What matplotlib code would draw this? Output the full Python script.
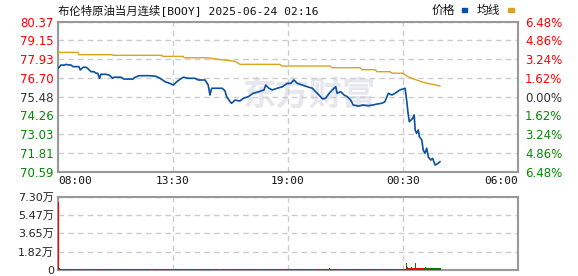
import matplotlib
matplotlib.use("Agg")
import matplotlib.pyplot as plt

# ---------------- data ----------------
title = "布伦特原油当月连续[BOOY] 2025-06-24 02:16"
prev_close = 75.48

# minutes since 08:00
price_t = [0, 9, 17, 23, 29, 37, 43, 60, 64, 72, 80, 85, 90, 95, 103, 109, 114, 119, 123, 138,
           147, 157, 161, 181, 189, 215, 219, 232, 261, 272, 281, 293, 307, 321, 331, 341, 350, 360, 373, 393,
           402, 422, 431, 436, 441, 456, 471, 479, 484, 494, 498, 508, 522, 532, 546, 560, 577, 591, 596, 605,
           615, 629, 644, 658, 668, 677, 687, 701, 715, 730, 739, 749, 759, 768, 778, 787, 797, 801, 811, 821,
           830, 840, 847, 862, 875, 890, 904, 915, 929, 938, 948, 958, 967, 981, 996, 1001, 1004, 1008, 1013, 1018,
           1022, 1025, 1029, 1034, 1037, 1044, 1048, 1053, 1058, 1063, 1070, 1075, 1082, 1088, 1096]
price_v = [77.33, 77.55, 77.53, 77.59, 77.55, 77.55, 77.44, 77.44, 77.22, 77.40, 77.40, 77.33, 77.22, 77.11, 77.11, 77.01, 77.01, 76.68, 76.94, 76.94,
           76.89, 76.68, 76.75, 76.75, 76.63, 76.63, 76.72, 76.85, 76.85, 76.83, 76.81, 76.68, 76.46, 76.35, 76.24, 76.46, 76.61, 76.75, 76.68, 76.68,
           76.57, 76.57, 76.24, 75.59, 76.03, 76.03, 76.03, 75.87, 75.48, 75.15, 75.05, 75.26, 75.20, 75.38, 75.48, 75.70, 75.81, 75.92, 76.24, 76.03,
           75.92, 76.03, 76.13, 76.35, 76.35, 76.57, 76.35, 76.24, 76.13, 76.03, 75.81, 75.59, 75.33, 75.38, 75.70, 75.92, 76.13, 75.70, 75.81, 75.59,
           75.48, 75.26, 74.94, 74.87, 74.94, 74.89, 74.94, 75.00, 75.05, 75.15, 75.70, 75.59, 75.70, 75.92, 76.03, 75.15, 74.50, 73.85, 73.96, 74.07,
           74.29, 73.31, 73.09, 73.31, 72.87, 72.66, 72.00, 71.79, 72.12, 71.53, 71.35, 71.46, 71.03, 71.09, 71.24]

avg_t = [0, 57, 60, 155, 158, 298, 301, 359, 362, 428, 465, 508, 522, 637, 643, 781, 786, 867, 872, 910,
         915, 953, 958, 990, 1004, 1047, 1096]
avg_v = [78.37, 78.37, 78.22, 78.22, 78.18, 78.18, 78.11, 78.11, 78.02, 78.02, 77.90, 77.79, 77.59, 77.59, 77.48, 77.48, 77.37, 77.37, 77.24, 77.24,
         77.11, 77.11, 77.01, 77.01, 76.78, 76.42, 76.18]

# low background volume (per 50-minute block)
base_t = [25, 75, 125, 175, 225, 275, 325, 375, 425, 475, 525, 575, 625, 675, 725, 775, 825, 875, 925, 975, 1025, 1075]
base_v = [1200, 1100, 1200, 1100, 1200, 1100, 1200, 1100, 1200, 1100, 1200, 1100, 1200, 1100, 1200, 1100, 1200, 1100, 1200, 1100, 1500, 1500]
base_up = [1, 0, 1, 0, 1, 0, 1, 0, 1, 0, 1, 0, 1, 0, 1, 0, 1, 0, 1, 0, 1, 0]

# spikes
spike_t = [1, 4, 780, 1001, 1003, 1015, 1025, 1027, 1055, 1062, 1080]
spike_v = [68000, 2000, 1800, 7000, 3000, 2500, 7000, 3000, 2500, 1500, 2000]
spike_up = [1, 0, 1, 0, 1, 0, 0, 1, 0, 1, 0]

price_ticks = [80.37, 79.15, 77.93, 76.70, 75.48, 74.26, 73.03, 71.81, 70.59]
pct_labels = ["6.48%", "4.86%", "3.24%", "1.62%", "0.00%", "1.62%", "3.24%", "4.86%", "6.48%"]
time_ticks = [0, 330, 660, 990, 1320]
time_labels = ["08:00", "13:30", "19:00", "00:30", "06:00"]
vol_ticks = [0, 18200, 36500, 54700, 73000]
vol_labels = ["0", "1.82万", "3.65万", "5.47万", "7.30万"]
legend_labels = ["价格", "均线"]
watermark = "东方财富"

# ---------------- style ----------------
W, H = 578, 276
BLUE = "#0a4fa0"
GOLD = "#dba21e"
RED = "#ff0000"
GREEN = "#008a00"
DARK = "#333333"
GRID = "#cccccc"
SPINE = "#999999"
CJK = ["Noto Sans CJK SC", "DejaVu Sans"]
NUM = ["DejaVu Sans", "Noto Sans CJK SC"]
MONO = ["DejaVu Sans Mono", "Noto Sans CJK SC"]

fig = plt.figure(figsize=(W / 100, H / 100), dpi=100)
fig.patch.set_facecolor("white")


def rect(l, t, r, b):
    return [l / W, 1 - b / H, (r - l) / W, (b - t) / H]


ax = fig.add_axes(rect(58, 21.7, 518, 171.7))
axv = fig.add_axes(rect(58, 196.7, 518, 269.7))

for a in (ax, axv):
    for s in a.spines.values():
        s.set_color(SPINE)
        s.set_linewidth(1.5)
    a.tick_params(length=0)
    a.set_xlim(0, 1320)
    a.set_xticks(time_ticks)
    a.grid(True, color=GRID, linestyle=(0, (4, 3)), linewidth=1)

# watermark
ax.text(0.545, 0.505, watermark, transform=ax.transAxes, fontsize=24, color="#e6e6ee",
        family=CJK, ha="center", va="center", fontweight="bold", zorder=0)

ax.plot(avg_t, avg_v, color=GOLD, lw=1.0, zorder=3)
ax.plot(price_t, price_v, color=BLUE, lw=1.2, zorder=4)
ax.set_ylim(price_ticks[-1], price_ticks[0])
ax.set_yticks(price_ticks)
ax.set_yticklabels([f"{v:.2f}" for v in price_ticks], fontsize=8.5, family=NUM)
for i, lab in enumerate(ax.get_yticklabels()):
    v = price_ticks[i]
    lab.set_color(RED if v > prev_close else (GREEN if v < prev_close else DARK))
ax.tick_params(axis="y", pad=3)
ax.set_xticklabels(time_labels, fontsize=8, family=MONO)
for i, lab in enumerate(ax.get_xticklabels()):
    lab.set_ha("left" if i == 0 else ("right" if i == len(time_labels) - 1 else "center"))
    lab.set_color("#111111")
ax.tick_params(axis="x", pad=3)

axr = ax.twinx()
axr.set_ylim(ax.get_ylim())
axr.set_yticks(price_ticks)
axr.set_yticklabels(pct_labels, fontsize=8.5, family=NUM)
for i, lab in enumerate(axr.get_yticklabels()):
    v = price_ticks[i]
    lab.set_color(RED if v > prev_close else (GREEN if v < prev_close else DARK))
axr.tick_params(length=0, pad=5)
for s in axr.spines.values():
    s.set_visible(False)

base_colors = ["#ff0000" if u else "#008000" for u in base_up]
axv.bar(base_t, base_v, width=50, color=base_colors, align="center", zorder=3)
spike_colors = ["#ff0000" if u else "#008000" for u in spike_up]
axv.bar(spike_t, spike_v, width=3, color=spike_colors, align="center", zorder=4)
axv.set_ylim(vol_ticks[0], vol_ticks[-1])
axv.set_yticks(vol_ticks)
axv.set_yticklabels(vol_labels, fontsize=8, family=NUM, color="#222222")
axv.set_xticklabels([])
axv.tick_params(axis="y", pad=3)

# title & legend
fig.text(58 / W, 1 - 10 / H, title, fontsize=8.2, family=MONO, va="center", ha="left", color="#111111")
fig.text(432 / W, 1 - 10 / H, legend_labels[0], fontsize=8.5, family=CJK, va="center", ha="left", color="#111111")
fig.patches.append(plt.Rectangle((462 / W, 1 - 12 / H), 5 / W, 4 / H, transform=fig.transFigure,
                                 color=BLUE, figure=fig))
fig.text(477 / W, 1 - 10 / H, legend_labels[1], fontsize=8.5, family=CJK, va="center", ha="left", color="#111111")
fig.patches.append(plt.Rectangle((508 / W, 1 - 12 / H), 6 / W, 4 / H, transform=fig.transFigure,
                                 color=GOLD, figure=fig))

fig.savefig("out.png", dpi=100, facecolor="white")
